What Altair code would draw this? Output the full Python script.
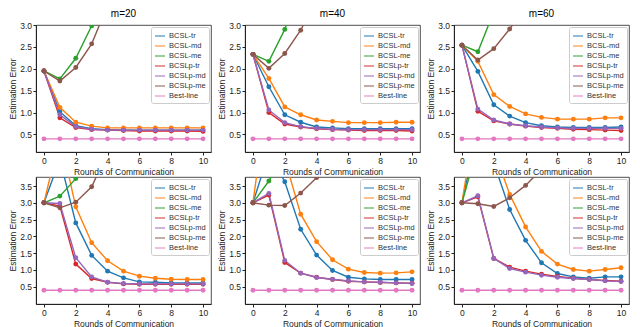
import altair as alt
import pandas as pd

ROUNDS = [0, 1, 2, 3, 4, 5, 6, 7, 8, 9, 10]
SERIES = ["BCSL-tr", "BCSL-md", "BCSL-me", "BCSLp-tr", "BCSLp-md", "BCSLp-me", "Best-line"]
COLORS = ["#1f77b4", "#ff7f0e", "#2ca02c", "#d62728", "#9467bd", "#8c564b", "#e377c2"]
TITLES = ["m=20", "m=40", "m=60", "", "", ""]

P_TOP_20 = {
    "BCSL-tr": [1.95, 1.02, 0.70, 0.63, 0.61, 0.60, 0.60, 0.60, 0.60, 0.60, 0.60],
    "BCSL-md": [1.95, 1.12, 0.78, 0.69, 0.65, 0.65, 0.65, 0.65, 0.65, 0.65, 0.65],
    "BCSL-me": [1.95, 1.77, 2.24, 2.98, 4.50],
    "BCSLp-tr": [1.95, 0.88, 0.66, 0.61, 0.60, 0.59, 0.58, 0.58, 0.58, 0.58, 0.57],
    "BCSLp-md": [1.95, 0.95, 0.68, 0.62, 0.60, 0.60, 0.60, 0.60, 0.60, 0.60, 0.60],
    "BCSLp-me": [1.95, 1.72, 2.03, 2.57, 3.45],
    "Best-line": [0.40, 0.40, 0.40, 0.40, 0.40, 0.40, 0.40, 0.40, 0.40, 0.40, 0.40],
}
P_TOP_40 = {
    "BCSL-tr": [2.33, 1.59, 0.95, 0.78, 0.67, 0.65, 0.63, 0.63, 0.63, 0.63, 0.63],
    "BCSL-md": [2.33, 1.78, 1.13, 0.95, 0.83, 0.80, 0.77, 0.77, 0.77, 0.78, 0.78],
    "BCSL-me": [2.33, 2.17, 2.90, 4.00],
    "BCSLp-tr": [2.33, 1.00, 0.74, 0.67, 0.63, 0.61, 0.60, 0.59, 0.59, 0.59, 0.58],
    "BCSLp-md": [2.33, 1.06, 0.77, 0.68, 0.64, 0.62, 0.61, 0.61, 0.61, 0.61, 0.61],
    "BCSLp-me": [2.33, 2.01, 2.35, 2.88, 3.60],
    "Best-line": [0.40, 0.40, 0.40, 0.40, 0.40, 0.40, 0.40, 0.40, 0.40, 0.40, 0.40],
}
P_TOP_60 = {
    "BCSL-tr": [2.54, 1.94, 1.18, 0.92, 0.77, 0.70, 0.67, 0.66, 0.66, 0.66, 0.67],
    "BCSL-md": [2.54, 2.17, 1.41, 1.14, 0.97, 0.89, 0.85, 0.85, 0.85, 0.88, 0.88],
    "BCSL-me": [2.54, 2.39, 3.30],
    "BCSLp-tr": [2.54, 1.03, 0.81, 0.74, 0.69, 0.66, 0.64, 0.62, 0.61, 0.60, 0.59],
    "BCSLp-md": [2.54, 1.08, 0.83, 0.74, 0.70, 0.67, 0.65, 0.64, 0.64, 0.64, 0.64],
    "BCSLp-me": [2.54, 2.20, 2.46, 2.91, 3.40],
    "Best-line": [0.40, 0.40, 0.40, 0.40, 0.40, 0.40, 0.40, 0.40, 0.40, 0.40, 0.40],
}
P_BOT_20 = {
    "BCSL-tr": [3.00, 4.30, 2.40, 1.43, 0.96, 0.76, 0.64, 0.63, 0.61, 0.61, 0.61],
    "BCSL-md": [3.00, 5.00, 2.88, 1.81, 1.27, 0.96, 0.81, 0.75, 0.72, 0.71, 0.71],
    "BCSL-me": [3.00, 3.20, 3.72, 4.50],
    "BCSLp-tr": [3.00, 2.90, 1.17, 0.74, 0.63, 0.58, 0.57, 0.57, 0.57, 0.57, 0.57],
    "BCSLp-md": [3.00, 2.98, 1.36, 0.79, 0.63, 0.59, 0.58, 0.58, 0.58, 0.58, 0.58],
    "BCSLp-me": [3.00, 2.85, 3.02, 3.48, 4.50],
    "Best-line": [0.39, 0.39, 0.39, 0.39, 0.39, 0.39, 0.39, 0.39, 0.39, 0.39, 0.39],
}
P_BOT_40 = {
    "BCSL-tr": [3.00, 4.50, 3.63, 2.21, 1.44, 0.98, 0.78, 0.73, 0.71, 0.71, 0.71],
    "BCSL-md": [3.00, 6.50, 4.30, 2.66, 1.84, 1.30, 1.02, 0.92, 0.90, 0.91, 0.94],
    "BCSL-me": [3.00, 3.65, 4.50],
    "BCSLp-tr": [3.00, 3.23, 1.22, 0.90, 0.78, 0.71, 0.66, 0.64, 0.62, 0.61, 0.60],
    "BCSLp-md": [3.00, 3.28, 1.28, 0.90, 0.77, 0.72, 0.67, 0.64, 0.63, 0.61, 0.59],
    "BCSLp-me": [3.00, 2.93, 2.92, 3.29, 3.75, 4.30],
    "Best-line": [0.39, 0.39, 0.39, 0.39, 0.39, 0.39, 0.39, 0.39, 0.39, 0.39, 0.39],
}
P_BOT_60 = {
    "BCSL-tr": [3.00, 5.20, 4.20, 2.80, 1.88, 1.21, 0.89, 0.79, 0.75, 0.79, 0.79],
    "BCSL-md": [3.00, 6.00, 4.60, 3.25, 2.28, 1.55, 1.17, 1.01, 0.96, 1.01, 1.06],
    "BCSL-me": [3.00, 4.70],
    "BCSLp-tr": [3.00, 3.18, 1.34, 1.08, 0.96, 0.87, 0.80, 0.75, 0.71, 0.68, 0.66],
    "BCSLp-md": [3.00, 3.21, 1.34, 1.04, 0.93, 0.84, 0.78, 0.74, 0.71, 0.67, 0.65],
    "BCSLp-me": [3.00, 2.97, 2.89, 3.15, 3.52, 4.00],
    "Best-line": [0.39, 0.39, 0.39, 0.39, 0.39, 0.39, 0.39, 0.39, 0.39, 0.39, 0.39],
}

PANELS = [P_TOP_20, P_TOP_40, P_TOP_60, P_BOT_20, P_BOT_40, P_BOT_60]
TOP_DOMAIN = [0.1, 3.0]
BOT_DOMAIN = [-0.02, 3.77]
TOP_TICKS = [0.5, 1.0, 1.5, 2.0, 2.5, 3.0]
BOT_TICKS = [0.5, 1.0, 1.5, 2.0, 2.5, 3.0, 3.5]
X_TICKS = [0, 2, 4, 6, 8, 10]

FONT = "Liberation Sans Narrow, Liberation Sans, DejaVu Sans"
W = 175
H = 127


def panel(data, title, top):
    rows = []
    for s in SERIES:
        for r, v in zip(ROUNDS, data[s]):
            rows.append({"round": r, "value": v, "series": s})
    df = pd.DataFrame(rows)
    dom = TOP_DOMAIN if top else BOT_DOMAIN
    ticks = TOP_TICKS if top else BOT_TICKS
    x = alt.X("round:Q", scale=alt.Scale(domain=[-0.5, 10.5], nice=False, zero=False),
              axis=alt.Axis(values=X_TICKS, title="Rounds of Communication", format="d"))
    y = alt.Y("value:Q", scale=alt.Scale(domain=dom, nice=False, zero=False),
              axis=alt.Axis(values=ticks, title="Estimation Error", format=".1f"))
    color = alt.Color("series:N", scale=alt.Scale(domain=SERIES, range=COLORS),
                      legend=alt.Legend(title=None, orient="top-right", symbolType="stroke"))
    base = alt.Chart(df).encode(x=x, y=y, color=color, detail="series:N")
    lines = base.mark_line(strokeWidth=1.4, clip=True)
    pts = base.mark_point(filled=True, size=24, opacity=1, clip=True)
    ch = alt.layer(lines, pts).properties(width=W, height=H)
    if title:
        ch = ch.properties(title=alt.TitleParams(title, fontSize=10, fontWeight="normal",
                                                  font=FONT, color="#000", offset=2))
    return ch


charts = [panel(PANELS[i], TITLES[i], i < 3) for i in range(6)]
top_row = alt.hconcat(*charts[:3], spacing=5).resolve_scale(color="independent").resolve_legend(color="independent")
bot_row = alt.hconcat(*charts[3:], spacing=5).resolve_scale(color="independent").resolve_legend(color="independent")
chart = alt.vconcat(top_row, bot_row, spacing=0).resolve_scale(color="independent").resolve_legend(
    color="independent"
).properties(
    padding=0
).configure_view(
    stroke="#222", strokeWidth=0.8
).configure_axis(
    grid=False, domainColor="#222", tickColor="#222", labelColor="#222", titleColor="#222",
    labelFont=FONT, titleFont=FONT, labelFontSize=8.5, titleFontSize=8.5,
    titleFontWeight="normal", tickSize=3, labelPadding=1.5, titlePadding=2
).configure_legend(
    labelFont=FONT, labelFontSize=7.5, labelColor="#333", strokeColor="#cccccc",
    fillColor="rgba(255,255,255,0.85)", cornerRadius=2, padding=3, rowPadding=0,
    symbolStrokeWidth=1.3, symbolSize=100, symbolOpacity=0.75, offset=2, labelOffset=3
)

chart.save("out.html", embed_options={"renderer": "svg", "actions": False})
